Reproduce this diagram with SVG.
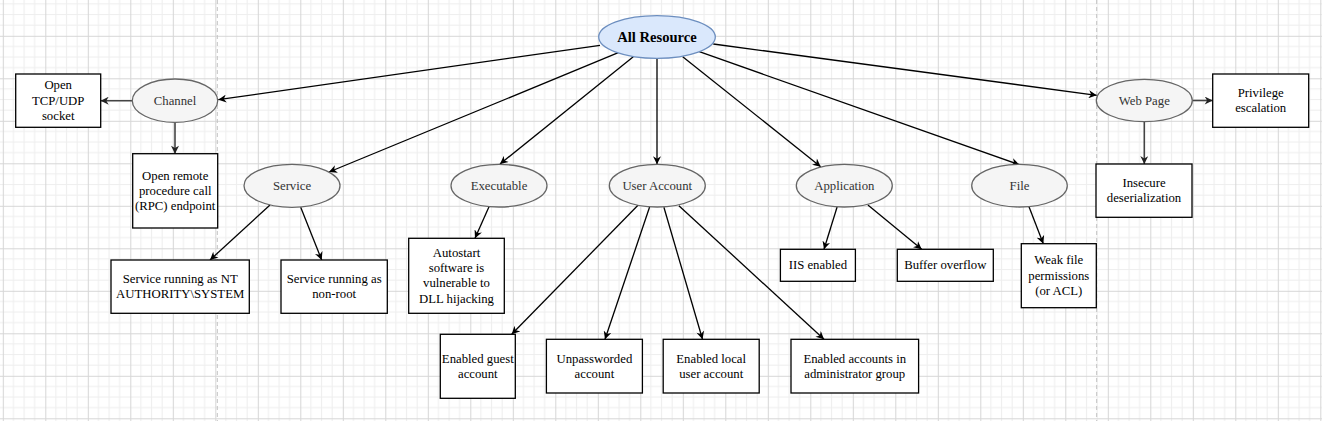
<svg xmlns="http://www.w3.org/2000/svg" width="1322" height="421" viewBox="0 0 1322 421">
<style>
.rect{fill:#ffffff;stroke:#000000;stroke-width:1.3}
.ell{fill:#f5f5f5;stroke:#666666;stroke-width:1.3}
.root{fill:#dae8fc;stroke:#6c8ebf;stroke-width:1.3}
text{font-family:"Liberation Serif","Times New Roman",serif;font-size:12.75px;text-anchor:middle;dominant-baseline:central;fill:#000000}
.el{fill:#333333}
.rt{font-size:14.6px;font-weight:bold}
.edge{fill:none;stroke:#000000;stroke-width:1.3}
.edge2{fill:none;stroke:#444444;stroke-width:1.6}
.page{stroke:#c2c2c2;stroke-width:1;stroke-dasharray:4 3}
</style>
<defs>
<pattern id="grid" patternUnits="userSpaceOnUse" x="2.8" y="35.8" width="42.5" height="42.5">
<rect width="42.5" height="42.5" fill="#ffffff"/>
<path d="M10.625 0V42.5M21.25 0V42.5M31.875 0V42.5M0 10.625H42.5M0 21.25H42.5M0 31.875H42.5" stroke="#eeeeee" stroke-width="1" fill="none"/>
<path d="M0.5 0V42.5M0 0.5H42.5" stroke="#d6d6d6" stroke-width="1" fill="none"/>
</pattern>
<marker id="arr" markerUnits="userSpaceOnUse" viewBox="0 0 10 10" refX="10" refY="5" markerWidth="9" markerHeight="8" orient="auto">
<path d="M0,0 L10,5 L0,10 L3,5 z" fill="#000000"/>
</marker>
<marker id="arr2" markerUnits="userSpaceOnUse" viewBox="0 0 10 10" refX="10" refY="5" markerWidth="9" markerHeight="8" orient="auto">
<path d="M0,0 L10,5 L0,10 L3,5 z" fill="#222222"/>
</marker>
</defs>
<rect width="1322" height="421" fill="url(#grid)"/>
<line class="page" x1="217.3" y1="0" x2="217.3" y2="421"/>
<line class="page" x1="1096.7" y1="0" x2="1096.7" y2="421"/>

<g id="connectors">
<line class="edge" x1="600" y1="45.3" x2="218.3" y2="99.7" marker-end="url(#arr)"/>
<line class="edge" x1="618.3" y1="52.7" x2="329" y2="172" marker-end="url(#arr)"/>
<line class="edge" x1="633.3" y1="56.7" x2="500" y2="164" marker-end="url(#arr)"/>
<line class="edge" x1="657" y1="58.3" x2="657" y2="164.3" marker-end="url(#arr)"/>
<line class="edge" x1="682.7" y1="56.7" x2="820.7" y2="166.7" marker-end="url(#arr)"/>
<line class="edge" x1="699.3" y1="51.7" x2="1019.3" y2="164.7" marker-end="url(#arr)"/>
<line class="edge" x1="713.3" y1="44" x2="1096.7" y2="95.3" marker-end="url(#arr)"/>
<line class="edge2" x1="132.3" y1="100.7" x2="100.7" y2="100.7" marker-end="url(#arr2)"/>
<line class="edge2" x1="175" y1="122.3" x2="175" y2="153.7" marker-end="url(#arr2)"/>
<line class="edge" x1="270" y1="205" x2="210" y2="260" marker-end="url(#arr)"/>
<line class="edge" x1="300.7" y1="207.3" x2="321.7" y2="260" marker-end="url(#arr)"/>
<line class="edge" x1="489" y1="206.7" x2="475" y2="238.3" marker-end="url(#arr)"/>
<line class="edge" x1="638.2" y1="205" x2="511.7" y2="334.3" marker-end="url(#arr)"/>
<line class="edge" x1="649.6" y1="207" x2="605" y2="339.3" marker-end="url(#arr)"/>
<line class="edge" x1="663.9" y1="207.3" x2="702.5" y2="339.3" marker-end="url(#arr)"/>
<line class="edge" x1="678.9" y1="205.7" x2="824" y2="339.3" marker-end="url(#arr)"/>
<line class="edge" x1="837.1" y1="207" x2="824" y2="249.3" marker-end="url(#arr)"/>
<line class="edge" x1="867.9" y1="205" x2="921.7" y2="249.3" marker-end="url(#arr)"/>
<line class="edge" x1="1029" y1="206.7" x2="1043.3" y2="243.7" marker-end="url(#arr)"/>
<line class="edge2" x1="1192.3" y1="100.5" x2="1212.7" y2="100.5" marker-end="url(#arr2)"/>
<line class="edge2" x1="1144.3" y1="121.7" x2="1144.3" y2="164" marker-end="url(#arr2)"/>
</g>

<g id="all-resource"><ellipse class="root" cx="657" cy="37" rx="58.3" ry="21.3"/><text class="rt" x="657" y="37">All Resource</text></g>
<g id="channel"><ellipse class="ell" cx="175" cy="100.7" rx="42.7" ry="21.7"/><text class="el" x="175" y="100.7">Channel</text></g>
<g id="service"><ellipse class="ell" cx="292" cy="185.8" rx="48" ry="21.5"/><text class="el" x="292" y="185.8">Service</text></g>
<g id="executable"><ellipse class="ell" cx="499" cy="185.7" rx="48" ry="21.3"/><text class="el" x="499" y="185.7">Executable</text></g>
<g id="user-account"><ellipse class="ell" cx="657.3" cy="185.7" rx="48" ry="21.3"/><text class="el" x="657.3" y="185.7">User Account</text></g>
<g id="application"><ellipse class="ell" cx="844.3" cy="185.7" rx="48" ry="21.3"/><text class="el" x="844.3" y="185.7">Application</text></g>
<g id="file"><ellipse class="ell" cx="1019.5" cy="185.7" rx="47.8" ry="21.3"/><text class="el" x="1019.5" y="185.7">File</text></g>
<g id="web-page"><ellipse class="ell" cx="1144.3" cy="100.5" rx="48" ry="21.2"/><text class="el" x="1144.3" y="100.5">Web Page</text></g>

<g id="tcp-socket"><rect class="rect" x="15.7" y="74" width="85" height="53.3"/><text x="58.2" y="85.4">Open</text><text x="58.2" y="100.7">TCP/UDP</text><text x="58.2" y="116">socket</text></g>
<g id="rpc-endpoint"><rect class="rect" x="132.7" y="153.7" width="85" height="74.3"/><text x="175.2" y="175.5">Open remote</text><text x="175.2" y="190.85">procedure call</text><text x="175.2" y="206.2">(RPC) endpoint</text></g>
<g id="svc-system"><rect class="rect" x="111" y="260" width="138.3" height="53.3"/><text x="180.2" y="279">Service running as NT</text><text x="180.2" y="294.3">AUTHORITY\SYSTEM</text></g>
<g id="svc-nonroot"><rect class="rect" x="281" y="260" width="106.3" height="53.3"/><text x="334.2" y="279">Service running as</text><text x="334.2" y="294.3">non-root</text></g>
<g id="autostart"><rect class="rect" x="408.7" y="238.3" width="95.6" height="75"/><text x="456.5" y="252.85">Autostart</text><text x="456.5" y="268.15">software is</text><text x="456.5" y="283.45">vulnerable to</text><text x="456.5" y="298.75">DLL hijacking</text></g>
<g id="guest"><rect class="rect" x="440.3" y="334.3" width="75" height="64"/><text x="477.8" y="358.6">Enabled guest</text><text x="477.8" y="374">account</text></g>
<g id="unpassworded"><rect class="rect" x="546.4" y="339.3" width="96" height="53.7"/><text x="594.4" y="358.5">Unpassworded</text><text x="594.4" y="373.8">account</text></g>
<g id="local-user"><rect class="rect" x="663.2" y="339.3" width="96" height="53.7"/><text x="711.2" y="358.5">Enabled local</text><text x="711.2" y="373.8">user account</text></g>
<g id="admin-group"><rect class="rect" x="791" y="339.3" width="127.6" height="53.7"/><text x="854.8" y="358.5">Enabled accounts in</text><text x="854.8" y="373.8">administrator group</text></g>
<g id="iis"><rect class="rect" x="780.4" y="249.3" width="75" height="32"/><text x="817.9" y="265.3">IIS enabled</text></g>
<g id="buffer"><rect class="rect" x="897.3" y="249.3" width="96" height="32"/><text x="945.3" y="265.3">Buffer overflow</text></g>
<g id="weak-perms"><rect class="rect" x="1021.3" y="243.7" width="75" height="64"/><text x="1058.8" y="260.4">Weak file</text><text x="1058.8" y="275.7">permissions</text><text x="1058.8" y="291">(or ACL)</text></g>
<g id="insecure"><rect class="rect" x="1096" y="164" width="96" height="53.3"/><text x="1144" y="183">Insecure</text><text x="1144" y="198.3">deserialization</text></g>
<g id="privilege"><rect class="rect" x="1212.7" y="74" width="96" height="53.3"/><text x="1260.7" y="93">Privilege</text><text x="1260.7" y="108.3">escalation</text></g>
</svg>
